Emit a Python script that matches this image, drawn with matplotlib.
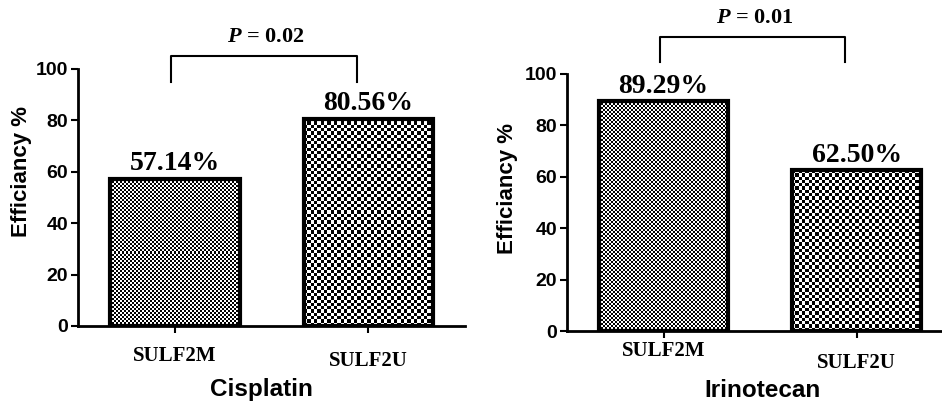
import matplotlib
matplotlib.use("Agg")
import matplotlib.pyplot as plt
import matplotlib.transforms as mtransforms
import numpy as np

# --- data
groups = ["SULF2M", "SULF2U"]
drugs = ["Cisplatin", "Irinotecan"]
efficiency = {
    "Cisplatin": [57.14, 80.56],
    "Irinotecan": [89.29, 62.50],
}
p_values = {"Cisplatin": "0.02", "Irinotecan": "0.01"}
bracket_low = {"Cisplatin": 95, "Irinotecan": 104.7}
bracket_high = {"Cisplatin": 105, "Irinotecan": 114.4}
p_text_y = {"Cisplatin": 112.5, "Irinotecan": 121.8}
yticks = [0, 20, 40, 60, 80, 100]

# checker cell size in pixels for each group (fine / coarse)
cell_px = [2.0, 3.3]

sans = "Liberation Sans"
serif = "Liberation Serif"

plt.rcParams["mathtext.fontset"] = "custom"
plt.rcParams["mathtext.it"] = "Liberation Serif:italic:bold"

fig = plt.figure(figsize=(9.42, 4.08), dpi=100)
axes = [
    fig.add_axes([0.0828, 0.201, 0.411, 0.630]),
    fig.add_axes([0.602, 0.1887, 0.41, 0.630]),
]
# per-panel label placement (axes fraction)
ylabel_pos = [(-0.145, 0.60), (-0.153, 0.556)]
xlabel_pos = [(0.473, -0.249), (0.505, -0.23)]
# extra drop (points) of each category label below the tick
tick_drop = [[9.5, 13.0], [2.5, 11.0]]


def checker_fill(ax, bar, cell):
    x0, y0 = bar.get_x(), bar.get_y()
    x1, y1 = x0 + bar.get_width(), y0 + bar.get_height()
    (px0, py0), (px1, py1) = ax.transData.transform([(x0, y0), (x1, y1)])
    nx = max(1, int(round(abs(px1 - px0) / cell)))
    ny = max(1, int(round(abs(py1 - py0) / cell)))
    arr = np.indices((ny, nx)).sum(axis=0) % 2
    ax.imshow(arr, cmap="gray", extent=(x0, x1, y0, y1), aspect="auto",
              interpolation="nearest", clip_path=bar, zorder=2.5)


for i, (ax, drug) in enumerate(zip(axes, drugs)):
    x = np.arange(len(groups))
    ax.set_xlim(-0.5, 1.5)
    ax.set_ylim(0, 100)
    bars = ax.bar(x, efficiency[drug], width=0.67, facecolor="none",
                  edgecolor="black", linewidth=3, zorder=3)
    for bar, cell in zip(bars, cell_px):
        checker_fill(ax, bar, cell)
    ax.set_xlim(-0.5, 1.5)
    ax.set_ylim(0, 100)

    for xi, v in zip(x, efficiency[drug]):
        ax.annotate(f"{v:.2f}%", (xi, v), xytext=(0, 2), textcoords="offset points",
                    ha="center", va="bottom", fontsize=20, fontweight="bold",
                    family=serif)

    # significance bracket
    lo, hi = bracket_low[drug], bracket_high[drug]
    ax.plot([-0.02, -0.02, 0.94, 0.94], [lo, hi, hi, lo], color="black",
            linewidth=1.5, clip_on=False)
    ax.text(0.47, p_text_y[drug], r"$\mathit{P}$" + f" = {p_values[drug]}",
            ha="center", va="center", fontsize=16, fontweight="bold",
            family=serif, clip_on=False)

    ax.set_xticks(x)
    ax.set_xticklabels(groups, family=serif, fontweight="bold", fontsize=15)
    ax.set_yticks(yticks)
    ax.set_yticklabels([str(t) for t in yticks], family=sans,
                       fontweight="bold", fontsize=14)
    ax.tick_params(axis="x", direction="out", length=5, width=1.5, pad=0)
    ax.tick_params(axis="y", direction="out", length=5, width=1.5, pad=2)

    for s in ["top", "right"]:
        ax.spines[s].set_visible(False)
    for s in ["left", "bottom"]:
        ax.spines[s].set_linewidth(2)

    ax.set_ylabel("Efficiancy %", family=sans, fontweight="bold", fontsize=16)
    ax.yaxis.set_label_coords(*ylabel_pos[i])
    ax.yaxis.label.set_verticalalignment("center")
    ax.set_xlabel(drug, family=sans, fontweight="bold", fontsize=17.5)
    ax.xaxis.set_label_coords(*xlabel_pos[i])
    ax.xaxis.label.set_verticalalignment("center")

    for lab, d in zip(ax.get_xticklabels(), tick_drop[i]):
        off = mtransforms.ScaledTranslation(0, -d / 72, fig.dpi_scale_trans)
        lab.set_transform(lab.get_transform() + off)

fig.savefig("out.png", dpi=100)
